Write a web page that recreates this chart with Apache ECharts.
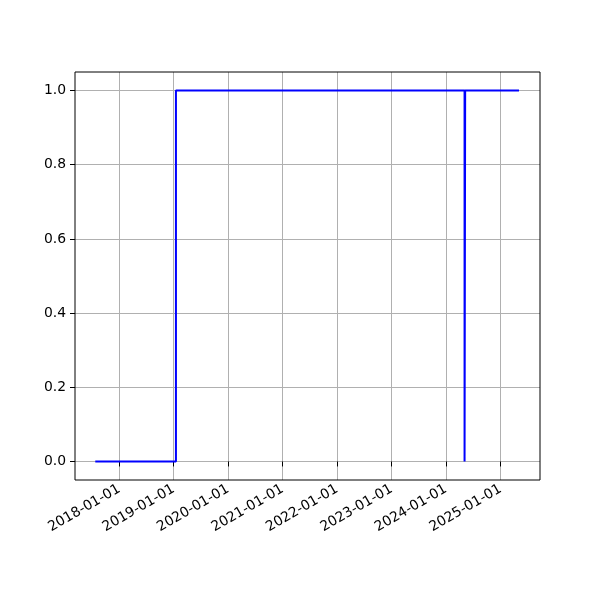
<!DOCTYPE html>
<html>
<head>
<meta charset="utf-8">
<script src="https://cdn.jsdelivr.net/npm/echarts@6/dist/echarts.min.js"></script>
<style>html,body{margin:0;padding:0;background:#fff}#c{width:600px;height:600px}</style>
</head>
<body>
<div id="c"></div>
<script>
const dates = ['2017-07-24', '2019-01-16', '2019-01-16', '2024-05-05', '2024-05-05', '2024-05-09', '2024-05-09', '2025-05-05'];
const values = [0, 0, 1, 1, 0, 0, 1, 1];
const xMin = '2017-03-10';
const xMax = '2025-09-23';
const yMin = -0.05;
const yMax = 1.05;

const DAY = 86400000;
const chart = echarts.init(document.getElementById('c'), null, {renderer: 'canvas'});
const font = 'DejaVu Sans';
chart.setOption({
  animation: false,
  backgroundColor: '#fff',
  grid: {left: 75, right: 60, top: 72, bottom: 120, show: true, borderColor: '#000', borderWidth: 1, backgroundColor: 'transparent', z: 10},
  xAxis: {
    type: 'time',
    min: xMin,
    max: xMax,
    minInterval: 365 * DAY,
    maxInterval: 366 * DAY,
    axisLine: {show: false},
    axisTick: {show: true, length: 5, lineStyle: {color: '#000', width: 1}},
    splitLine: {show: true, showMinLine: false, showMaxLine: false, lineStyle: {color: '#b0b0b0', width: 1}},
    axisLabel: {
      rotate: 30, margin: 8, color: '#000', fontFamily: font, fontSize: 13.9,
      showMinLabel: false, showMaxLabel: false,
      formatter: function (v) { return echarts.time.format(v, '{yyyy}-{MM}-{dd}', false); }
    }
  },
  yAxis: {
    type: 'value',
    min: yMin,
    max: yMax,
    axisLine: {show: false},
    axisTick: {show: true, length: 5, lineStyle: {color: '#000', width: 1}},
    splitLine: {show: true, showMinLine: false, showMaxLine: false, lineStyle: {color: '#b0b0b0', width: 1}},
    axisLabel: {
      margin: 9, color: '#000', fontFamily: font, fontSize: 13.9,
      showMinLabel: false, showMaxLabel: false,
      formatter: function (v) { return v.toFixed(1); }
    }
  },
  series: [{
    type: 'line',
    data: dates.map((d, i) => [d, values[i]]),
    showSymbol: false,
    symbol: 'none',
    lineStyle: {color: '#0000ff', width: 2},
    itemStyle: {color: '#0000ff'}
  }]
});
</script>
</body>
</html>
